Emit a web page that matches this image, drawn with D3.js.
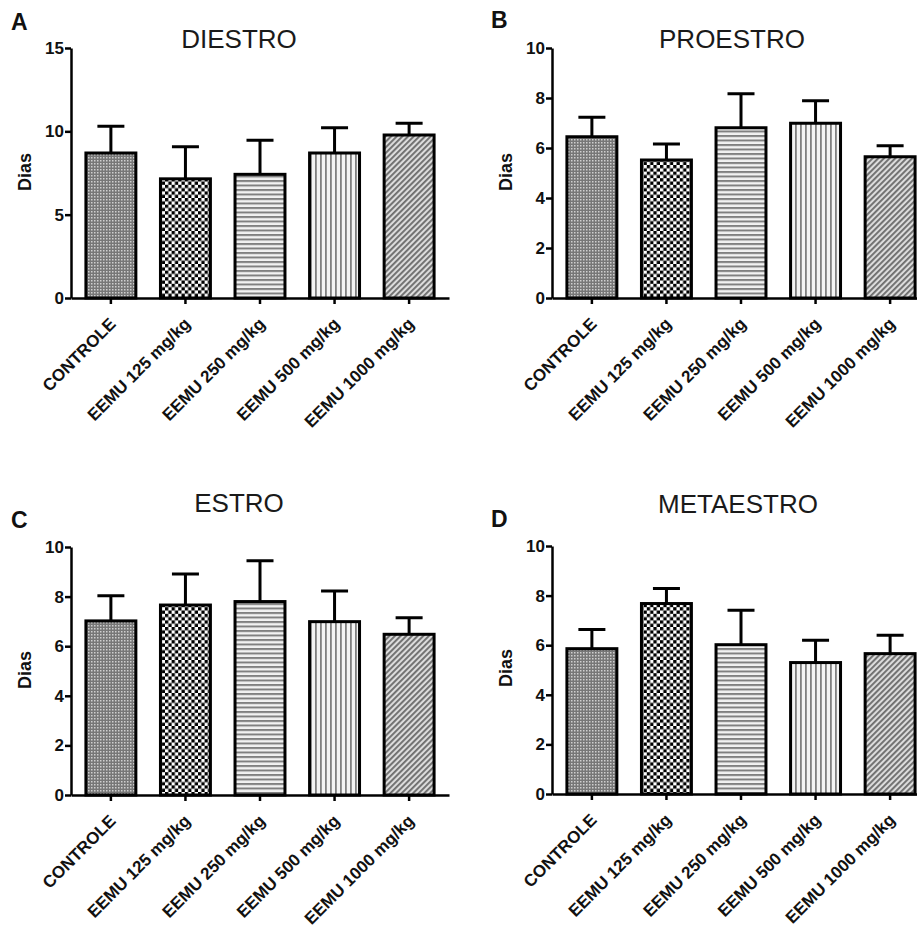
<!DOCTYPE html>
<html>
<head>
<meta charset="utf-8">
<script src="https://cdn.jsdelivr.net/npm/d3@7"></script>
<style>
  body { margin: 0; background: #fff; }
  svg { display: block; font-family: "Liberation Sans", Arial, sans-serif; }
</style>
</head>
<body>
<svg id="chart" width="917" height="933"></svg>
<script>
// grupos (eixo x)
const groups = ["CONTROLE", "EEMU 125 mg/kg", "EEMU 250 mg/kg", "EEMU 500 mg/kg", "EEMU 1000 mg/kg"];

// médias e erro (só barra superior)
const diestroMean = [8.7, 7.15, 7.42, 8.7, 9.78];
const diestroErr = [1.6, 1.92, 2.04, 1.52, 0.7];
const proestroMean = [6.45, 5.52, 6.81, 6.99, 5.65];
const proestroErr = [0.78, 0.64, 1.36, 0.9, 0.44];
const estroMean = [7.02, 7.66, 7.8, 6.99, 6.48];
const estroErr = [1.01, 1.25, 1.65, 1.24, 0.67];
const metaestroMean = [5.86, 7.68, 6.02, 5.3, 5.66];
const metaestroErr = [0.77, 0.61, 1.39, 0.9, 0.74];

const diestroTicks = [0, 5, 10, 15];
const otherTicks = [0, 2, 4, 6, 8, 10];

const svg = d3.select("#chart");
const defs = svg.append("defs");

// padrões de preenchimento das barras
let p = defs.append("pattern").attr("id", "pat0").attr("patternUnits", "userSpaceOnUse")
  .attr("width", 3).attr("height", 3);
p.append("rect").attr("width", 3).attr("height", 3).attr("fill", "#777");
p.append("rect").attr("x", 1).attr("y", 1).attr("width", 1.5).attr("height", 1.5).attr("fill", "#cfcfcf");

p = defs.append("pattern").attr("id", "pat1").attr("patternUnits", "userSpaceOnUse")
  .attr("width", 6.6).attr("height", 6.6);
p.append("rect").attr("width", 6.6).attr("height", 6.6).attr("fill", "#fff");
p.append("rect").attr("width", 3.3).attr("height", 3.3).attr("fill", "#000");
p.append("rect").attr("x", 3.3).attr("y", 3.3).attr("width", 3.3).attr("height", 3.3).attr("fill", "#000");

p = defs.append("pattern").attr("id", "pat2").attr("patternUnits", "userSpaceOnUse")
  .attr("width", 10).attr("height", 4.5);
p.append("rect").attr("width", 10).attr("height", 4.5).attr("fill", "#f2f2f2");
p.append("rect").attr("y", 0).attr("width", 10).attr("height", 2).attr("fill", "#808080");

p = defs.append("pattern").attr("id", "pat3").attr("patternUnits", "userSpaceOnUse")
  .attr("width", 5).attr("height", 10);
p.append("rect").attr("width", 5).attr("height", 10).attr("fill", "#f4f4f4");
p.append("rect").attr("x", 0).attr("width", 1.8).attr("height", 10).attr("fill", "#808080");

p = defs.append("pattern").attr("id", "pat4").attr("patternUnits", "userSpaceOnUse")
  .attr("width", 4).attr("height", 4).attr("patternTransform", "rotate(45)");
p.append("rect").attr("width", 4).attr("height", 4).attr("fill", "#dcdcdc");
p.append("rect").attr("width", 1.9).attr("height", 4).attr("fill", "#6e6e6e");

const fills = ["url(#pat0)", "url(#pat1)", "url(#pat2)", "url(#pat3)", "url(#pat4)"];

const panels = [
  { letter: "A", title: "DIESTRO", mean: diestroMean, err: diestroErr, max: 15, ticks: diestroTicks,
    x0: 71, top: 48, bottom: 298, lx: 11, ly: 30, tx: 239, ty: 48, dy: 172 },
  { letter: "B", title: "PROESTRO", mean: proestroMean, err: proestroErr, max: 10, ticks: otherTicks,
    x0: 552, top: 48, bottom: 298, lx: 491, ly: 28, tx: 732, ty: 48, dy: 172 },
  { letter: "C", title: "ESTRO", mean: estroMean, err: estroErr, max: 10, ticks: otherTicks,
    x0: 71, top: 547, bottom: 795, lx: 11, ly: 528, tx: 239, ty: 512, dy: 670 },
  { letter: "D", title: "METAESTRO", mean: metaestroMean, err: metaestroErr, max: 10, ticks: otherTicks,
    x0: 552, top: 546, bottom: 794, lx: 491, ly: 527, tx: 738, ty: 513, dy: 668 }
];

panels.forEach(pn => {
  const g = svg.append("g");

  const x = d3.scaleBand().domain(groups).range([pn.x0, pn.x0 + 378])
    .paddingInner(0.33).paddingOuter(0.2);
  const y = d3.scaleLinear().domain([0, pn.max]).range([pn.bottom, pn.top]);

  // letra do painel
  g.append("text").attr("x", pn.lx).attr("y", pn.ly)
    .attr("font-size", 23).attr("font-weight", "bold").attr("fill", "#111").text(pn.letter);

  // título
  g.append("text").attr("x", pn.tx).attr("y", pn.ty).attr("text-anchor", "middle")
    .attr("font-size", 26).attr("fill", "#1a1a1a").text(pn.title);

  // rótulo do eixo y
  g.append("text").attr("transform", `translate(${pn.x0 - 46},${pn.dy}) rotate(-90)`)
    .attr("text-anchor", "middle").attr("dominant-baseline", "central")
    .attr("font-size", 18).attr("font-weight", "bold").attr("fill", "#111").text("Dias");

  // barras de erro (só para cima)
  const bw = x.bandwidth();
  g.selectAll(".err").data(groups).enter().append("path")
    .attr("d", (d, i) => {
      const cx = x(d) + bw / 2;
      const yt = y(pn.mean[i] + pn.err[i]);
      return `M${cx},${y(pn.mean[i])}V${yt}M${cx - 13.5},${yt}H${cx + 13.5}`;
    })
    .attr("stroke", "#000").attr("stroke-width", 3).attr("fill", "none");

  // barras
  g.selectAll(".bar").data(groups).enter().append("rect")
    .attr("x", d => x(d)).attr("width", bw)
    .attr("y", (d, i) => y(pn.mean[i]))
    .attr("height", (d, i) => pn.bottom - y(pn.mean[i]))
    .attr("fill", (d, i) => fills[i])
    .attr("stroke", "#000").attr("stroke-width", 3);

  // eixo y
  const ya = g.append("g").attr("transform", `translate(${pn.x0},0)`)
    .call(d3.axisLeft(y).tickValues(pn.ticks).tickSize(6).tickPadding(1).tickSizeOuter(0));
  ya.selectAll("text").attr("font-size", 17).attr("font-weight", "bold").attr("fill", "#111")
    .attr("font-family", "Liberation Sans, Arial, sans-serif");

  // eixo x
  const xa = g.append("g").attr("transform", `translate(0,${pn.bottom})`)
    .call(d3.axisBottom(x).tickSize(6).tickSizeOuter(0));
  xa.selectAll("text").remove();
  xa.selectAll(".tick").append("text")
    .attr("transform", "translate(6,27) rotate(-45)")
    .attr("text-anchor", "end").attr("font-size", 17).attr("font-weight", "bold")
    .attr("fill", "#111").attr("font-family", "Liberation Sans, Arial, sans-serif")
    .text(d => d);

  g.selectAll(".domain, .tick line").attr("stroke", "#000").attr("stroke-width", 2.5);
});
</script>
</body>
</html>
